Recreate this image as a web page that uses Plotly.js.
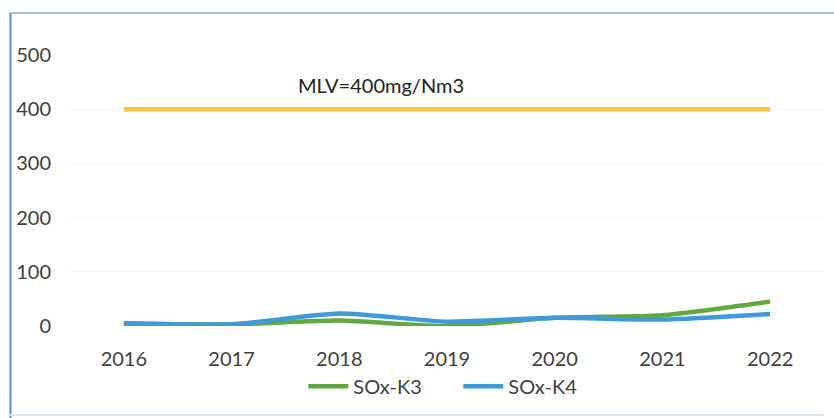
<!DOCTYPE html>
<html>
<head>
<meta charset="utf-8">
<script src="https://cdn.plot.ly/plotly-3.0.1.min.js"></script>
<style>
html,body{margin:0;padding:0;background:#fff;}
#chart{width:834px;height:418px;}
</style>
</head>
<body>
<div id="chart"></div>
<script>
const years = ['2016','2017','2018','2019','2020','2021','2022'];
const soxK3 = [4, 3, 10, 0, 15, 20, 45];
const soxK4 = [5, 3, 23, 8, 15, 12, 22];
const mlv = [400, 400, 400, 400, 400, 400, 400];
const seriesNames = ['SOx-K3', 'SOx-K4', 'MLV'];
const yTicks = [0, 100, 200, 300, 400, 500];
const annotationText = 'MLV=400mg/Nm3';

const font = 'Lato, "Open Sans", "Liberation Sans", sans-serif';

const traces = [
  {x: years, y: mlv, name: seriesNames[2], type: 'scatter', mode: 'lines',
   line: {color: '#F7C442', width: 4.5}, showlegend: false},
  {x: years, y: soxK3, name: seriesNames[0], type: 'scatter', mode: 'lines',
   line: {color: '#62A83F', width: 4.5, shape: 'spline', smoothing: 0.6}},
  {x: years, y: soxK4, name: seriesNames[1], type: 'scatter', mode: 'lines',
   line: {color: '#3F9ADB', width: 4.5, shape: 'spline', smoothing: 0.6}}
];

const layout = {
  width: 834, height: 418,
  margin: {l: 70, r: 10, t: 55, b: 92},
  paper_bgcolor: '#ffffff', plot_bgcolor: '#ffffff',
  font: {family: font, color: '#404040', size: 19},
  xaxis: {
    type: 'category', range: [-0.5, 6.5], showgrid: false, zeroline: false,
    showline: false, ticks: '', tickfont: {size: 20, color: '#404040'},
    ticklabelstandoff: 19
  },
  yaxis: {
    range: [0, 500], tickvals: yTicks, showgrid: true, gridcolor: '#f6f6f6',
    zeroline: false, showline: false, ticks: '',
    tickfont: {size: 20, color: '#404040'}, ticklabelstandoff: 18
  },
  legend: {
    orientation: 'h', x: 0.515, xanchor: 'center', y: -0.15, yanchor: 'top',
    font: {size: 20, color: '#404040'}, traceorder: 'normal', itemwidth: 40,
    entrywidth: 100, entrywidthmode: 'pixels'
  },
  annotations: [{
    text: annotationText, xref: 'paper', yref: 'y', x: 0.412, y: 445,
    showarrow: false, font: {size: 20, color: '#222222'}
  }],
  shapes: [
    {type: 'line', xref: 'paper', yref: 'paper', x0: -60/754, x1: 1.02, y0: 1 + 42/271, y1: 1 + 42/271,
     line: {color: '#A9C4DA', width: 2}},
    {type: 'line', xref: 'paper', yref: 'paper', x0: -59.5/754, x1: -59.5/754, y0: 1 + 42/271, y1: -92/271,
     line: {color: '#5B93C8', width: 2}},
    {type: 'line', xref: 'paper', yref: 'paper', x0: -60/754, x1: 1.0, y0: -89/271, y1: -89/271,
     line: {color: '#D7E6F2', width: 2}}
  ]
};

Plotly.newPlot('chart', traces, layout, {displayModeBar: false, staticPlot: true});
</script>
</body>
</html>
